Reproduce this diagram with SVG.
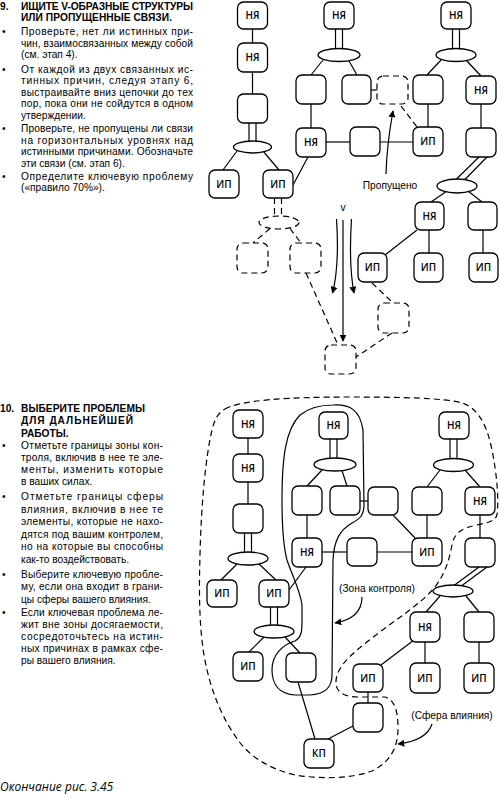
<svg xmlns="http://www.w3.org/2000/svg" width="500" height="799" viewBox="0 0 500 799">
<defs>
<style>
.b{fill:#fff;stroke:#000;stroke-width:1.3}
.d{fill:#fff;stroke:#000;stroke-width:1.2;stroke-dasharray:6 4}
.l{stroke:#000;stroke-width:1.2;fill:none}
.dl{stroke:#000;stroke-width:1.2;fill:none;stroke-dasharray:6 4}
.nt{font-family:"Open Sans","Noto Sans",sans-serif;font-size:10px;font-weight:600;text-anchor:middle}
.tx{font-family:"Liberation Sans",Arial,sans-serif;font-size:10.2px}
.hd{font-family:"Liberation Sans",Arial,sans-serif;font-size:10.2px;font-weight:bold}
.lb{font-family:"Liberation Sans",Arial,sans-serif;font-size:10.2px}
.cap{font-family:"Open Sans","Noto Sans",sans-serif;font-size:12px;font-style:italic}
</style>
<marker id="ah" viewBox="0 0 10 10" refX="9" refY="5" markerWidth="7" markerHeight="7" markerUnits="userSpaceOnUse" orient="auto">
<path d="M0,0 L10,5 L0,10 Z" fill="#000"/>
</marker>
</defs>
<rect width="500" height="799" fill="#fff"/>

<g id="text9">
<text class="hd" x="0" y="9.5">9.</text>
<text class="hd" x="21" y="9.5" textLength="172" lengthAdjust="spacing">ИЩИТЕ V-ОБРАЗНЫЕ СТРУКТУРЫ</text>
<text class="hd" x="21" y="21" textLength="151" lengthAdjust="spacing">ИЛИ ПРОПУЩЕННЫЕ СВЯЗИ.</text>
<text class="tx" x="2" y="35">•</text>
<text class="tx" x="21" y="35" textLength="172" lengthAdjust="spacing">Проверьте, нет ли истинных при-</text>
<text class="tx" x="21" y="46.5" textLength="172" lengthAdjust="spacing">чин, взаимосвязанных между собой</text>
<text class="tx" x="21" y="58">(см. этап 4).</text>
<text class="tx" x="2" y="72.5">•</text>
<text class="tx" x="21" y="72.5" textLength="172" lengthAdjust="spacing">От каждой из двух связанных ис-</text>
<text class="tx" x="21" y="84" textLength="172" lengthAdjust="spacing">тинных причин, следуя этапу 6,</text>
<text class="tx" x="21" y="95.5" textLength="172" lengthAdjust="spacing">выстраивайте вниз цепочки до тех</text>
<text class="tx" x="21" y="107" textLength="172" lengthAdjust="spacing">пор, пока они не сойдутся в одном</text>
<text class="tx" x="21" y="118.5">утверждении.</text>
<text class="tx" x="2" y="132">•</text>
<text class="tx" x="21" y="132" textLength="172" lengthAdjust="spacing">Проверьте, не пропущены ли связи</text>
<text class="tx" x="21" y="143.5" textLength="172" lengthAdjust="spacing">на горизонтальных уровнях над</text>
<text class="tx" x="21" y="155" textLength="172" lengthAdjust="spacing">истинными причинами. Обозначьте</text>
<text class="tx" x="21" y="166.5">эти связи (см. этап 6).</text>
<text class="tx" x="2" y="179.5">•</text>
<text class="tx" x="21" y="179.5" textLength="172" lengthAdjust="spacing">Определите ключевую проблему</text>
<text class="tx" x="21" y="191">(«правило 70%»).</text>
</g>

<g id="text10">
<text class="hd" x="0" y="412">10.</text>
<text class="hd" x="21" y="412" textLength="124" lengthAdjust="spacing">ВЫБЕРИТЕ ПРОБЛЕМЫ</text>
<text class="hd" x="21" y="424" textLength="112" lengthAdjust="spacing">ДЛЯ ДАЛЬНЕЙШЕЙ</text>
<text class="hd" x="21" y="436.5">РАБОТЫ.</text>
<text class="tx" x="2" y="448.5">•</text>
<text class="tx" x="21" y="448.5" textLength="142" lengthAdjust="spacing">Отметьте границы зоны кон-</text>
<text class="tx" x="21" y="460.5" textLength="142" lengthAdjust="spacing">троля, включив в нее те эле-</text>
<text class="tx" x="21" y="472.5" textLength="142" lengthAdjust="spacing">менты, изменить которые</text>
<text class="tx" x="21" y="484.5">в ваших силах.</text>
<text class="tx" x="2" y="500">•</text>
<text class="tx" x="21" y="500" textLength="142" lengthAdjust="spacing">Отметьте границы сферы</text>
<text class="tx" x="21" y="512.5" textLength="142" lengthAdjust="spacing">влияния, включив в нее те</text>
<text class="tx" x="21" y="525" textLength="142" lengthAdjust="spacing">элементы, которые не нахо-</text>
<text class="tx" x="21" y="537.5" textLength="142" lengthAdjust="spacing">дятся под вашим контролем,</text>
<text class="tx" x="21" y="550" textLength="142" lengthAdjust="spacing">но на которые вы способны</text>
<text class="tx" x="21" y="562.5">как-то воздействовать.</text>
<text class="tx" x="2" y="577.5">•</text>
<text class="tx" x="21" y="577.5" textLength="142" lengthAdjust="spacing">Выберите ключевую пробле-</text>
<text class="tx" x="21" y="590" textLength="142" lengthAdjust="spacing">му, если она входит в грани-</text>
<text class="tx" x="21" y="602.5">цы сферы вашего влияния.</text>
<text class="tx" x="2" y="616">•</text>
<text class="tx" x="21" y="616" textLength="142" lengthAdjust="spacing">Если ключевая проблема ле-</text>
<text class="tx" x="21" y="628" textLength="142" lengthAdjust="spacing">жит вне зоны досягаемости,</text>
<text class="tx" x="21" y="640" textLength="142" lengthAdjust="spacing">сосредоточьтесь на истин-</text>
<text class="tx" x="21" y="652" textLength="142" lengthAdjust="spacing">ных причинах в рамках сфе-</text>
<text class="tx" x="21" y="664">ры вашего влияния.</text>
</g>

<text id="caption" class="cap" x="0" y="791">Окончание рис. 3.45</text>

<g id="connectors">
<line class="l" x1="252.5" y1="29" x2="252.5" y2="43"/>
<line class="l" x1="252.5" y1="72" x2="252.5" y2="94"/>
<line class="l" x1="249" y1="123" x2="249" y2="141.5"/>
<line class="l" x1="256" y1="123" x2="256" y2="141.5"/>
<line class="l" x1="237" y1="151" x2="223" y2="170"/>
<line class="l" x1="263" y1="151" x2="279" y2="170"/>
<line class="l" x1="335.5" y1="29" x2="335.5" y2="49"/>
<line class="l" x1="342.5" y1="29" x2="342.5" y2="49"/>
<line class="l" x1="323" y1="60" x2="311" y2="75"/>
<line class="l" x1="349" y1="61" x2="357" y2="75"/>
<line class="l" x1="311" y1="104" x2="311" y2="128"/>
<line class="l" x1="326" y1="142" x2="350" y2="142"/>
<line class="l" x1="380" y1="142" x2="413" y2="142"/>
<line class="l" x1="308" y1="157" x2="293" y2="185"/>
<line class="l" x1="428" y1="104" x2="428" y2="127"/>
<line class="l" x1="371" y1="90" x2="377" y2="90"/>
<line class="dl" x1="401" y1="106" x2="417" y2="127"/>
<line class="l" x1="452.5" y1="29" x2="452.5" y2="49"/>
<line class="l" x1="459.5" y1="29" x2="459.5" y2="49"/>
<line class="l" x1="441" y1="60" x2="427" y2="75"/>
<line class="l" x1="466" y1="60" x2="481" y2="76"/>
<line class="l" x1="481" y1="104" x2="481" y2="128"/>
<line class="l" x1="479" y1="157" x2="456" y2="179.5"/>
<line class="l" x1="487" y1="157" x2="464" y2="180.5"/>
<line class="l" x1="447" y1="191" x2="431" y2="202"/>
<line class="l" x1="468" y1="191" x2="482" y2="202"/>
<line class="l" x1="417" y1="230" x2="385" y2="255"/>
<line class="l" x1="429" y1="230" x2="429" y2="253"/>
<line class="l" x1="483" y1="230" x2="483" y2="253"/>
<line class="dl" x1="274.5" y1="198" x2="274.5" y2="216.5"/>
<line class="dl" x1="281.5" y1="198" x2="281.5" y2="216.5"/>
<line class="dl" x1="270" y1="228.5" x2="253" y2="243"/>
<line class="dl" x1="290" y1="228.5" x2="301" y2="243"/>
<line class="dl" x1="306" y1="273" x2="338" y2="345"/>
<line class="dl" x1="372" y1="283" x2="393" y2="303"/>
<line class="dl" x1="392" y1="333" x2="356" y2="357"/>
<line class="l" x1="343" y1="220" x2="343" y2="341" marker-end="url(#ah)"/>
<path class="l" d="M336.5,219 C338.5,250 338,272 332.5,293" marker-end="url(#ah)"/>
<path class="l" d="M351.5,219 C349.5,250 350,272 354,293" marker-end="url(#ah)"/>
<path class="l" d="M386,174 C386.5,155 389,133 393,111" marker-end="url(#ah)"/>

<line class="l" x1="248" y1="438" x2="248" y2="454"/>
<line class="l" x1="248" y1="482" x2="248" y2="504"/>
<line class="l" x1="244.5" y1="533" x2="244.5" y2="552.5"/>
<line class="l" x1="251.5" y1="533" x2="251.5" y2="552.5"/>
<line class="l" x1="237" y1="564" x2="221" y2="580"/>
<line class="l" x1="259" y1="564" x2="276" y2="580"/>
<line class="l" x1="270.5" y1="607" x2="270.5" y2="625.5"/>
<line class="l" x1="277.5" y1="607" x2="277.5" y2="625.5"/>
<line class="l" x1="264" y1="637" x2="249" y2="652"/>
<line class="l" x1="285" y1="637" x2="300" y2="653"/>
<line class="l" x1="298" y1="682" x2="315" y2="739"/>
<line class="l" x1="328" y1="739" x2="353" y2="726"/>
<line class="l" x1="368" y1="692" x2="368" y2="703"/>
<line class="l" x1="330" y1="439" x2="330" y2="458.5"/>
<line class="l" x1="337" y1="439" x2="337" y2="458.5"/>
<line class="l" x1="322" y1="470" x2="307" y2="486"/>
<line class="l" x1="342" y1="470.5" x2="347" y2="486"/>
<line class="l" x1="307" y1="515" x2="307" y2="538"/>
<line class="l" x1="360" y1="501" x2="368" y2="501"/>
<line class="l" x1="393" y1="515" x2="415" y2="538"/>
<line class="l" x1="322" y1="552" x2="347" y2="552"/>
<line class="l" x1="377" y1="552" x2="412" y2="552"/>
<line class="l" x1="306" y1="567" x2="289" y2="590"/>
<line class="l" x1="427" y1="515" x2="427" y2="538"/>
<line class="l" x1="450" y1="439" x2="450" y2="458.5"/>
<line class="l" x1="457" y1="439" x2="457" y2="458.5"/>
<line class="l" x1="440" y1="470" x2="427" y2="487"/>
<line class="l" x1="465" y1="470" x2="480" y2="487"/>
<line class="l" x1="480" y1="515" x2="480" y2="538"/>
<line class="l" x1="479" y1="567" x2="454" y2="585.5"/>
<line class="l" x1="487" y1="567" x2="462" y2="585.5"/>
<line class="l" x1="440" y1="596" x2="426" y2="612"/>
<line class="l" x1="466" y1="596" x2="479" y2="612"/>
<line class="l" x1="414" y1="640" x2="381" y2="665"/>
<line class="l" x1="425" y1="642" x2="425" y2="663"/>
<line class="l" x1="479" y1="642" x2="479" y2="663"/>
</g>

<g id="top-nodes">
<g id="n1"><rect class="b" x="237.5" y="2" width="30" height="27" rx="6"/><text class="nt" x="252.5" y="19">НЯ</text></g>
<g id="n2"><rect class="b" x="237.5" y="43" width="30" height="29" rx="6"/><text class="nt" x="252.5" y="61">НЯ</text></g>
<g id="n3"><rect class="b" x="237.5" y="94" width="30" height="29" rx="6"/></g>
<g id="e1"><ellipse class="b" cx="252.5" cy="147" rx="19" ry="6"/></g>
<g id="n4"><rect class="b" x="209" y="170" width="30" height="28" rx="6"/><text class="nt" x="224" y="187.5">ИП</text></g>
<g id="n5"><rect class="b" x="263" y="170" width="30" height="28" rx="6"/><text class="nt" x="278" y="187.5">ИП</text></g>
<g id="n6"><rect class="b" x="324" y="2" width="30" height="27" rx="6"/><text class="nt" x="339" y="19">НЯ</text></g>
<g id="e2"><ellipse class="b" cx="339" cy="55" rx="21" ry="6.5"/></g>
<g id="n7"><rect class="b" x="296" y="75" width="30" height="29" rx="6"/></g>
<g id="n8"><rect class="b" x="342" y="75" width="29" height="29" rx="6"/></g>
<g id="n9"><rect class="d" x="377" y="76" width="31" height="28" rx="6"/></g>
<g id="n10"><rect class="b" x="413" y="75" width="30" height="29" rx="6"/></g>
<g id="n11"><rect class="b" x="296" y="128" width="30" height="29" rx="6"/><text class="nt" x="311" y="146">НЯ</text></g>
<g id="n12"><rect class="b" x="350" y="127" width="30" height="29" rx="6"/></g>
<g id="n13"><rect class="b" x="413" y="127" width="30" height="29" rx="6"/><text class="nt" x="428" y="145">ИП</text></g>
<g id="n14"><rect class="b" x="441" y="2" width="30" height="27" rx="6"/><text class="nt" x="456" y="19">НЯ</text></g>
<g id="e3"><ellipse class="b" cx="456" cy="55" rx="20" ry="6.5"/></g>
<g id="n15"><rect class="b" x="466" y="76" width="30" height="28" rx="6"/><text class="nt" x="481" y="93.5">НЯ</text></g>
<g id="n16"><rect class="b" x="466" y="128" width="30" height="29" rx="6"/></g>
<g id="e4"><ellipse class="b" cx="457" cy="186" rx="20" ry="7"/></g>
<g id="n17"><rect class="b" x="415" y="202" width="29" height="28" rx="6"/><text class="nt" x="429.5" y="219.5">НЯ</text></g>
<g id="n18"><rect class="b" x="468" y="202" width="29" height="28" rx="6"/></g>
<g id="n19"><rect class="b" x="358" y="253" width="29" height="29" rx="6"/><text class="nt" x="372.5" y="271">ИП</text></g>
<g id="n20"><rect class="b" x="414" y="253" width="29" height="29" rx="6"/><text class="nt" x="428.5" y="271">ИП</text></g>
<g id="n21"><rect class="b" x="469" y="253" width="29" height="29" rx="6"/><text class="nt" x="483.5" y="271">ИП</text></g>
<g id="e5"><ellipse class="d" cx="279" cy="222.5" rx="20" ry="6.5"/></g>
<g id="d1"><rect class="d" x="237" y="243" width="31" height="30" rx="6"/></g>
<g id="d2"><rect class="d" x="290" y="243" width="31" height="30" rx="6"/></g>
<g id="d3"><rect class="d" x="378" y="303" width="31" height="30" rx="6"/></g>
<g id="d4"><rect class="d" x="325" y="345" width="31" height="29" rx="6"/></g>
<g id="lbl-v"><text class="lb" x="343" y="211" text-anchor="middle">v</text></g>
<g id="lbl-missed"><text class="lb" x="390" y="189" text-anchor="middle">Пропущено</text></g>
</g>

<g id="bottom-nodes">
<g id="m1"><rect class="b" x="233" y="410" width="30" height="28" rx="6"/><text class="nt" x="248" y="427.5">НЯ</text></g>
<g id="m2"><rect class="b" x="233" y="454" width="30" height="28" rx="6"/><text class="nt" x="248" y="471.5">НЯ</text></g>
<g id="m3"><rect class="b" x="233" y="504" width="30" height="29" rx="6"/></g>
<g id="em1"><ellipse class="b" cx="248" cy="558.5" rx="20" ry="6.5"/></g>
<g id="m4"><rect class="b" x="207" y="580" width="30" height="27" rx="6"/><text class="nt" x="222" y="597">ИП</text></g>
<g id="m5"><rect class="b" x="259" y="580" width="30" height="27" rx="6"/><text class="nt" x="274" y="597">ИП</text></g>
<g id="em2"><ellipse class="b" cx="274" cy="631.5" rx="20" ry="6.5"/></g>
<g id="m6"><rect class="b" x="233" y="652" width="30" height="29" rx="6"/><text class="nt" x="248" y="670">ИП</text></g>
<g id="m7"><rect class="b" x="286" y="653" width="30" height="29" rx="6"/></g>
<g id="m8"><rect class="b" x="304" y="739" width="30" height="29" rx="6"/><text class="nt" x="319" y="757">КП</text></g>
<g id="m9"><rect class="b" x="353" y="703" width="30" height="29" rx="6"/></g>
<g id="m10"><rect class="b" x="353" y="664" width="30" height="28" rx="6"/><text class="nt" x="368" y="681.5">ИП</text></g>
<g id="m11"><rect class="b" x="319" y="412" width="29" height="27" rx="6"/><text class="nt" x="333.5" y="429">НЯ</text></g>
<g id="em3"><ellipse class="b" cx="335" cy="464.5" rx="21" ry="6.5"/></g>
<g id="m12"><rect class="b" x="292" y="486" width="30" height="29" rx="6"/></g>
<g id="m13"><rect class="b" x="330" y="486" width="30" height="29" rx="6"/></g>
<g id="m14"><rect class="b" x="368" y="487" width="30" height="28" rx="6"/></g>
<g id="m15"><rect class="b" x="412" y="487" width="30" height="28" rx="6"/></g>
<g id="m16"><rect class="b" x="292" y="538" width="30" height="29" rx="6"/><text class="nt" x="307" y="556">НЯ</text></g>
<g id="m17"><rect class="b" x="347" y="538" width="30" height="28" rx="6"/></g>
<g id="m18"><rect class="b" x="412" y="538" width="30" height="28" rx="6"/><text class="nt" x="427" y="555.5">ИП</text></g>
<g id="m19"><rect class="b" x="439" y="412" width="30" height="27" rx="6"/><text class="nt" x="454" y="429">НЯ</text></g>
<g id="em4"><ellipse class="b" cx="453.5" cy="465" rx="20" ry="6.5"/></g>
<g id="m20"><rect class="b" x="465" y="487" width="30" height="28" rx="6"/><text class="nt" x="480" y="504.5">НЯ</text></g>
<g id="m21"><rect class="b" x="465" y="538" width="30" height="29" rx="6"/></g>
<g id="em5"><ellipse class="b" cx="453" cy="591" rx="20" ry="6"/></g>
<g id="m22"><rect class="b" x="410" y="612" width="30" height="30" rx="6"/><text class="nt" x="425" y="630.5">НЯ</text></g>
<g id="m23"><rect class="b" x="464" y="612" width="30" height="30" rx="6"/></g>
<g id="m25"><rect class="b" x="410" y="663" width="30" height="30" rx="6"/><text class="nt" x="425" y="681.5">ИП</text></g>
<g id="m26"><rect class="b" x="464" y="663" width="30" height="30" rx="6"/><text class="nt" x="479" y="681.5">ИП</text></g>
</g>

<g id="zones">
<path id="control-zone" class="l" d="M333,405 C350,404 360,410 363,430 L364,505 C364,515 360,519 352,523 C340,530 334,540 333,560 L332,675 C332,688 325,694 310,695 L295,695 C280,694 272,685 272,670 C272,655 282,645 295,641 C302,637 302,630 302,620 L302,605 C300,590 292,575 287,560 C283,545 282,525 282,500 C282,460 285,430 300,415 C310,407 320,405 333,405 Z"/>
<path id="sphere" class="dl" d="M225,409 C240,400 290,397 350,397 C400,397 445,398 462,403 C478,408 487,425 492,450 C497,475 499,500 497,515 C495,522 485,523 477,525 C462,528 454,533 452,545 C449,560 446,572 435,587 C420,605 395,620 372,638 C350,655 335,668 336,684 C337,694 347,697 360,697 L385,697 C395,700 398,712 398,728 C398,748 390,762 372,771 C350,779 320,779 295,775 C270,769 250,757 238,740 C222,718 210,690 204,655 C199,625 199,590 200,555 C201,510 205,460 212,430 C215,418 219,412 225,409 Z"/>
<text class="lb" x="377" y="592" text-anchor="middle">(Зона контроля)</text>
<path class="l" d="M362,597 C362,612 352,620 335,623" marker-end="url(#ah)"/>
<text class="lb" x="452" y="719" text-anchor="middle">(Сфера влияния)</text>
<path class="l" d="M432,724 C428,736 415,742 398,744" marker-end="url(#ah)"/>
</g>
</svg>
